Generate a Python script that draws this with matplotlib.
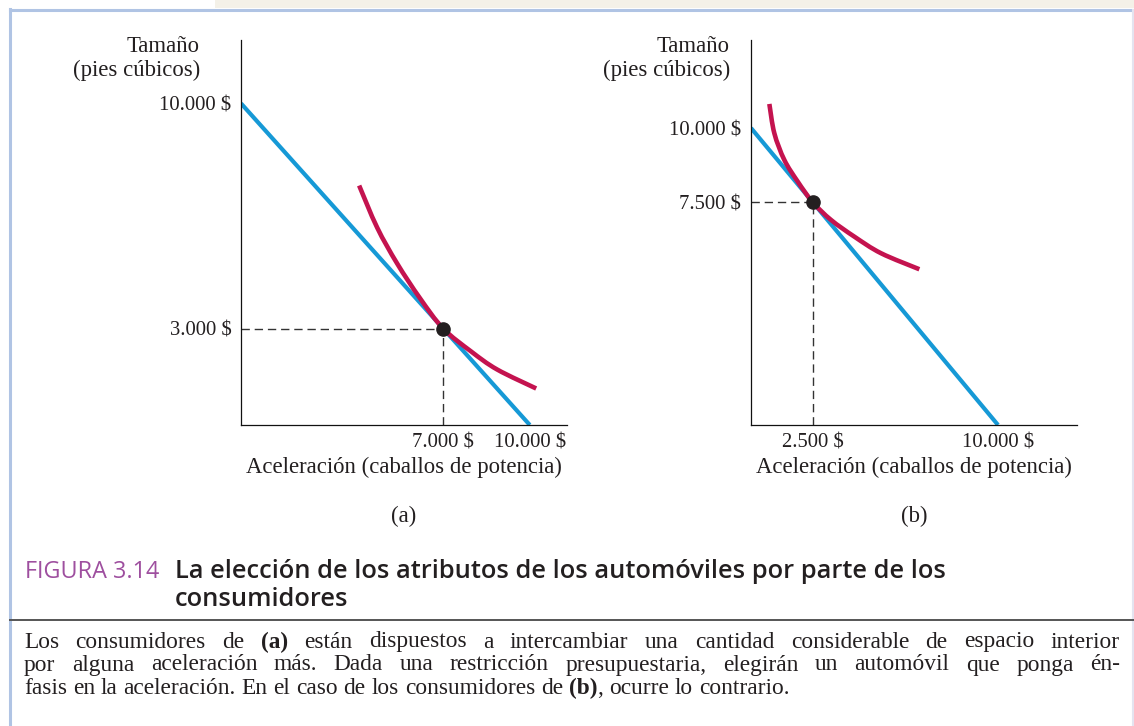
import matplotlib
matplotlib.use("Agg")
import numpy as np
import matplotlib.pyplot as plt
from matplotlib.lines import Line2D
from matplotlib.patches import Rectangle, PathPatch
from matplotlib.path import Path

# ---------------- data ----------------
budget_x = [0, 10000]
budget_y = [10000, 0]

# panel (a)
a_choice = (7000, 3000)
a_xticks = [7000, 10000]
a_xticklabels = ["7.000 $", "10.000 $"]
a_yticks = [3000, 10000]
a_yticklabels = ["3.000 $", "10.000 $"]
a_curve_x = [4091, 4714, 5407, 6204, 7000, 7970, 8870, 10221]
a_curve_y = [7446, 6140, 5021, 3933, 3000, 2285, 1725, 1135]

# panel (b)
b_choice = (2500, 7500)
b_xticks = [2500, 10000]
b_xticklabels = ["2.500 $", "10.000 $"]
b_yticks = [7500, 10000]
b_yticklabels = ["7.500 $", "10.000 $"]
b_curve_x = [743, 945, 1350, 1893, 2500, 3241, 4184, 5265, 6816]
b_curve_y = [10810, 9823, 8924, 8194, 7500, 6904, 6342, 5783, 5244]

ylabel_lines = ["Tamaño", "(pies cúbicos)"]
xlabel_text = "Aceleración (caballos de potencia)"
panel_names = ["(a)", "(b)"]

caption_tag = "FIGURA 3.14"
caption_line1 = "La elección de los atributos de los automóviles por parte de los"
caption_line2 = "consumidores"

body_lines = [
    [[("Los", 0)], [("consumidores", 0)], [("de", 0)], [("(a)", 1)], [("están", 0)], [("dispuestos", 0)],
     [("a", 0)], [("intercambiar", 0)], [("una", 0)], [("cantidad", 0)], [("considerable", 0)], [("de", 0)],
     [("espacio", 0)], [("interior", 0)]],
    [[(w, 0)] for w in "por alguna aceleración más. Dada una restricción presupuestaria, elegirán un automóvil que ponga én-".split()],
    [[(w, 0)] for w in "fasis en la aceleración. En el caso de los consumidores de".split()]
    + [[("(b)", 1), (",", 0)]] + [[(w, 0)] for w in "ocurre lo contrario.".split()],
]

# ---------------- styling ----------------
W, H = 1134, 726
BLUE = "#1699d6"
RED = "#c4134f"
DOT = "#231f20"
DASH = "#333333"
INK = "#231f20"
SERIF = ["Liberation Serif", "DejaVu Serif"]
SANS = ["Open Sans", "DejaVu Sans"]

fig = plt.figure(figsize=(W / 100, H / 100), dpi=100)
fig.patch.set_facecolor("white")
renderer = fig.canvas.get_renderer()


def fx(px):
    return px / W


def fy(py):
    return 1 - py / H


def text_width(s, size, family, weight="normal"):
    t = fig.text(0, 0, s, fontsize=size, fontfamily=family, fontweight=weight)
    w = t.get_window_extent(renderer).width
    t.remove()
    return w


def fit_size(s, target_px, family, weight="normal"):
    return 20.0 * target_px / text_width(s, 20.0, family, weight)


LBL = fit_size(xlabel_text, 316, SERIF)
TICK = fit_size("10.000 $", 72, SERIF)

# frame decorations
fig.patches.append(Rectangle((fx(215), fy(8)), 1 - fx(215), 8 / H, transform=fig.transFigure,
                             facecolor="#f4f1e8", edgecolor="none", zorder=0))
fig.lines.append(Line2D([fx(10), fx(10)], [fy(9), 0], transform=fig.transFigure, color="#b0c4e4", lw=2.2))
fig.lines.append(Line2D([fx(10), 1], [fy(9.5), fy(9.5)], transform=fig.transFigure, color="#b0c4e4", lw=2.2))
fig.lines.append(Line2D([fx(1132.5), fx(1132.5)], [fy(10), 0], transform=fig.transFigure, color="#e4e4f0", lw=1.5))
fig.lines.append(Line2D([fx(10), 1], [fy(620), fy(620)], transform=fig.transFigure, color="#555555", lw=1.4))


def smooth_path(xs, ys):
    P = np.column_stack([xs, ys]).astype(float)
    n = len(P)
    verts = [P[0]]
    codes = [Path.MOVETO]
    for i in range(n - 1):
        p0 = P[i - 1] if i > 0 else P[i]
        p1 = P[i]
        p2 = P[i + 1]
        p3 = P[i + 2] if i + 2 < n else P[i + 1]
        verts += [p1 + (p2 - p0) / 6.0, p2 - (p3 - p1) / 6.0, p2]
        codes += [Path.CURVE4] * 3
    return Path(verts, codes)


def panel(left, right, top, bottom, xmax, ymax, choice, curve_x, curve_y,
          xticks, xticklabels, yticks, yticklabels, ylab_right, name):
    ax = fig.add_axes([fx(left), fy(bottom), fx(right) - fx(left), (bottom - top) / H])
    ax.set_xlim(0, xmax)
    ax.set_ylim(0, ymax)
    for s in ["top", "right"]:
        ax.spines[s].set_visible(False)
    for s in ["left", "bottom"]:
        ax.spines[s].set_linewidth(0.9)
        ax.spines[s].set_color("#111111")
    ax.plot(budget_x, budget_y, color=BLUE, lw=3.0, solid_capstyle="butt", zorder=2)
    ax.add_patch(PathPatch(smooth_path(curve_x, curve_y), fill=False, edgecolor=RED, lw=3.3,
                           capstyle="butt", zorder=3, clip_on=False))
    cx, cy = choice
    ax.plot([0, cx], [cy, cy], color=DASH, lw=1.0, ls=(0, (6, 3.5)), zorder=1)
    ax.plot([cx, cx], [0, cy], color=DASH, lw=1.0, ls=(0, (6, 3.5)), zorder=1)
    ax.plot([cx], [cy], marker="o", ms=9.5, color=DOT, zorder=4, clip_on=False)
    ax.set_xticks(xticks)
    ax.set_xticklabels(xticklabels, fontfamily=SERIF, fontsize=TICK, color=INK)
    ax.set_yticks(yticks)
    ax.set_yticklabels(yticklabels, fontfamily=SERIF, fontsize=TICK, color=INK)
    ax.tick_params(length=0, pad=7)
    ax.tick_params(axis="x", pad=6)
    fig.text(fx(ylab_right), fy(47), ylabel_lines[0], ha="right", va="center",
             fontfamily=SERIF, fontsize=LBL, color=INK)
    fig.text(fx(ylab_right), fy(70), ylabel_lines[1], ha="right", va="center",
             fontfamily=SERIF, fontsize=LBL, color=INK)
    mid = (left + right) / 2
    fig.text(fx(mid), fy(467), xlabel_text, ha="center", va="center",
             fontfamily=SERIF, fontsize=LBL, color=INK)
    fig.text(fx(mid), fy(516), name, ha="center", va="center",
             fontfamily=SERIF, fontsize=LBL, color=INK)
    return ax


panel(241, 567, 40, 425, 11288, 11971, a_choice, a_curve_x, a_curve_y,
      a_xticks, a_xticklabels, a_yticks, a_yticklabels, 200, panel_names[0])
panel(751, 1077, 40, 425, 13198, 12963, b_choice, b_curve_x, b_curve_y,
      b_xticks, b_xticklabels, b_yticks, b_yticklabels, 730, panel_names[1])

# caption
TAG = fit_size(caption_tag, 134, SANS, "medium")
CAP = 0.94 * fit_size(caption_line1, 820, SANS, "semibold")
fig.text(fx(25), fy(572), caption_tag, ha="left", va="center", fontfamily=SANS,
         fontsize=TAG, color="#9e4f9f", fontweight="medium")
fig.text(fx(175), fy(572), caption_line1, ha="left", va="center", fontfamily=SANS,
         fontsize=CAP, color=INK, fontweight="semibold")
fig.text(fx(175), fy(599), caption_line2, ha="left", va="center", fontfamily=SANS,
         fontsize=CAP, color=INK, fontweight="semibold")


# body text (justified)
def line_natural_width(words, size):
    total = 0.0
    for word in words:
        for txt, bold in word:
            total += text_width(txt, size, SERIF, "bold" if bold else "normal")
    sp = text_width("a a", size, SERIF) - text_width("aa", size, SERIF)
    return total + sp * (len(words) - 1)


BODY = 0.9 * 20.0 * 849 / line_natural_width(body_lines[2], 20.0)


def draw_line(words, x0, x1, y, justify):
    placed = []
    total = 0.0
    for word in words:
        segs = []
        wsum = 0.0
        for txt, bold in word:
            t = fig.text(0, fy(y), txt, ha="left", va="center", fontfamily=SERIF, fontsize=BODY,
                         color=INK, fontweight="bold" if bold else "normal")
            w = t.get_window_extent(renderer).width
            segs.append((t, w))
            wsum += w
        placed.append((segs, wsum))
        total += wsum
    sp_nat = text_width("a a", BODY, SERIF) - text_width("aa", BODY, SERIF)
    gaps = len(words) - 1
    sp = (x1 - x0 - total) / gaps if (justify and gaps > 0) else sp_nat
    x = x0
    for segs, wsum in placed:
        xx = x
        for t, w in segs:
            t.set_x(fx(xx))
            xx += w
        x += wsum + sp


draw_line(body_lines[0], 24, 1120, 642, True)
draw_line(body_lines[1], 24, 1120, 665, True)
draw_line(body_lines[2], 24, 1120, 688, False)

fig.savefig("out.png", dpi=100)
